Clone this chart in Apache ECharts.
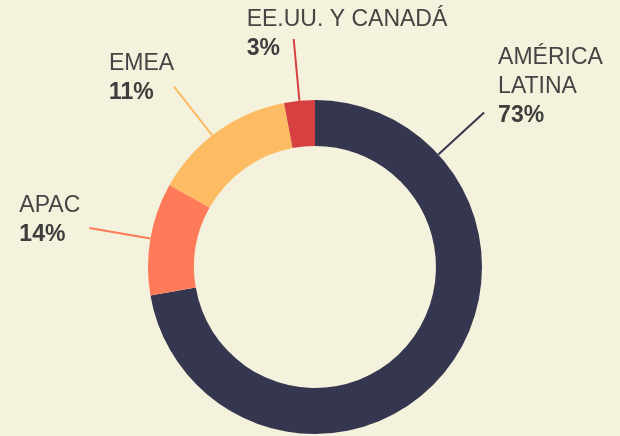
<!DOCTYPE html>
<html>
<head>
<meta charset="utf-8">
<style>
  html, body { margin: 0; padding: 0; background: #f4f2dc; }
  #chart { width: 620px; height: 436px; }
</style>
<script src="https://cdn.jsdelivr.net/npm/echarts@6/dist/echarts.min.js"></script>
</head>
<body>
<div id="chart"></div>
<script>
// data
const regions = ['AMÉRICA\nLATINA', 'APAC', 'EMEA', 'EE.UU. Y CANADÁ']
const arcValues = [73, 11, 14, 3]      // slice sizes as drawn
const printedPct = [73, 14, 11, 3]     // numbers printed in the labels
const colors = ['#35364f', '#ff7a59', '#fdbb63', '#d64040']

// label text offset from the end of its leader line
const labelOffsets = [[14, -69], [-70, -37], [-65, -37], [-47, -34]]

const cx = 315, cy = 267, rIn = 121, rOut = 167, lineLen = 62

const total = arcValues.reduce((a, b) => a + b, 0)
let cum = 0
const midAngles = arcValues.map(v => {
	const a = (cum + v / 2) / total * 360
	cum += v
	return a
})
// a couple of leaders are not at the slice middle
midAngles[0] = 47.6
midAngles[2] = 322

function polar(angle, r) {
	const rad = angle * Math.PI / 180
	return [cx + r * Math.sin(rad), cy - r * Math.cos(rad)]
}

let chart = echarts.init(document.getElementById('chart'))
let option = {
	backgroundColor: '#f4f2dc',
	animation: false,
	series: [{
		type: 'pie',
		center: [cx, cy],
		radius: [rIn, rOut],
		startAngle: 90,
		clockwise: true,
		emphasis: { disabled: true },
		data: regions.map((name, i) => ({
			name: name,
			value: arcValues[i],
			itemStyle: { color: colors[i] },
			labelLine: { lineStyle: { color: colors[i] } }
		})),
		label: {
			show: true,
			position: 'outside',
			formatter: function (params) {
				const lines = regions[params.dataIndex].split('\n').map(s => '{n|' + s + '}')
				lines.push('{p|' + printedPct[params.dataIndex] + '%}')
				return lines.join('\n')
			},
			rich: {
				n: { fontFamily: 'Liberation Sans', fontSize: 23, color: '#454545', lineHeight: 29 },
				p: { fontFamily: 'Liberation Sans', fontSize: 23, fontWeight: 'bold', color: '#3d3d3d', lineHeight: 29 }
			}
		},
		labelLine: { show: true, length: lineLen, length2: 0, lineStyle: { width: 2 } },
		labelLayout: function (params) {
			const i = params.dataIndex
			const p0 = polar(midAngles[i], rOut)
			const p1 = polar(midAngles[i], rOut + lineLen)
			return {
				x: p1[0] + labelOffsets[i][0],
				y: p1[1] + labelOffsets[i][1],
				align: 'left',
				verticalAlign: 'top',
				labelLinePoints: [p0, p1, p1]
			}
		}
	}]
}
chart.setOption(option)
</script>
</body>
</html>
